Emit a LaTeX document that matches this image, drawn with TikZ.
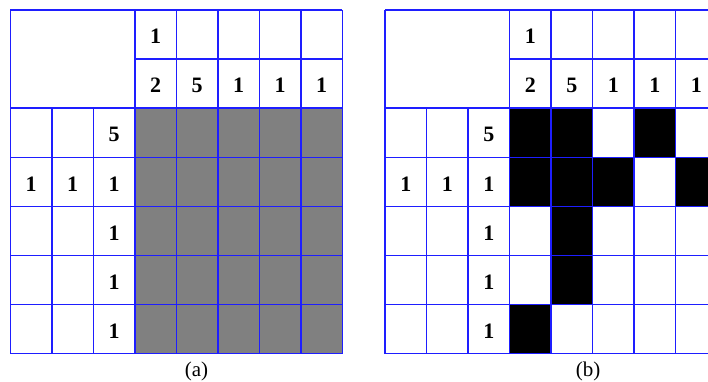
\documentclass[tikz,border=0pt]{standalone}
\usepackage{fontspec}
\setmainfont{Liberation Serif}
\definecolor{gridblue}{RGB}{30,30,255}
\definecolor{cellgray}{RGB}{128,128,128}
\tikzset{
  gridline/.style={draw=gridblue, line width=1.4pt},
  clue/.style={inner sep=0pt, font=\fontsize{22}{24}\selectfont\bfseries},
  caption/.style={inner sep=0pt, font=\fontsize{21}{23}\selectfont},
  graycell/.style={fill=cellgray},
  blackcell/.style={fill=black},
}
\newcommand{\cw}{41.5}
\newcommand{\rh}{49.1}
\newcommand{\gx}{10.3}
\newcommand{\gy}{10}
\newcommand{\gridlines}{%
  % horizontal lines
  \draw[gridline] (\gx,\gy) -- ({\gx+8*\cw},\gy);
  \draw[gridline] ({\gx+3*\cw},{\gy+\rh}) -- ({\gx+8*\cw},{\gy+\rh});
  \foreach \r in {2,...,7}{\draw[gridline] (\gx,{\gy+\r*\rh}) -- ({\gx+8*\cw},{\gy+\r*\rh});}
  % vertical lines
  \foreach \c in {0,3,4,5,6,7,8}{\draw[gridline] ({\gx+\c*\cw},\gy) -- ({\gx+\c*\cw},{\gy+7*\rh});}
  \foreach \c in {1,2}{\draw[gridline] ({\gx+\c*\cw},{\gy+2*\rh}) -- ({\gx+\c*\cw},{\gy+7*\rh});}
}
\newcommand{\clues}[1]{%
  \foreach \c/\r/\t in {3/0/1, 3/1/2, 4/1/5, 5/1/1, 6/1/1, 7/1/1, 2/2/5, 0/3/1, 1/3/1, 2/3/1, 2/4/1, 2/5/1, 2/6/1}{
    \node[clue] (#1\c\r) at ({\gx+(\c+0.5)*\cw},{\gy+(\r+0.5)*\rh+2}) {\t};
  }
}
\begin{document}
\begin{tikzpicture}[x=1pt,y=-1pt]
\useasboundingbox (0,0) rectangle (708,382);
\clip (0,0) rectangle (708,382);
% (a)
\begin{scope}
  \fill[graycell] ({\gx+3*\cw},{\gy+2*\rh}) rectangle ({\gx+8*\cw},{\gy+7*\rh});
  \gridlines
  \clues{a}
\end{scope}
\node[caption] (capa) at (196.5,371) {(a)};
% (b)
\begin{scope}[xshift=374.7pt]
  \foreach \c/\r in {3/2,4/2,6/2,3/3,4/3,5/3,7/3,4/4,4/5,3/6}{
    \fill[blackcell] ({\gx+\c*\cw},{\gy+\r*\rh}) rectangle ({\gx+(\c+1)*\cw},{\gy+(\r+1)*\rh});
  }
  \gridlines
  \clues{b}
\end{scope}
\node[caption] (capb) at (588,371) {(b)};
\end{tikzpicture}
\end{document}
